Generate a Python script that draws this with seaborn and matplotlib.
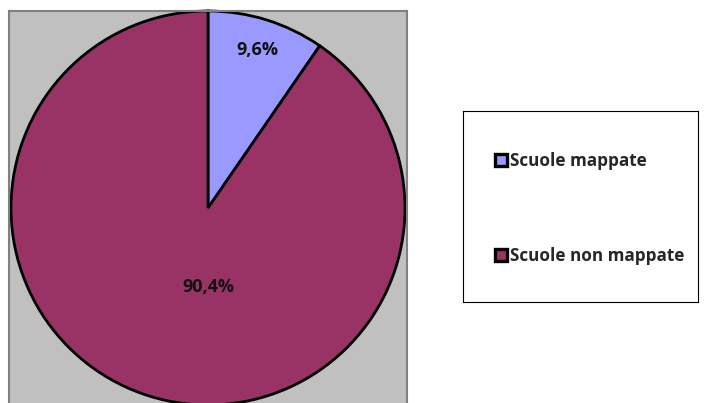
import matplotlib.pyplot as plt
import seaborn as sns
from matplotlib.patches import Patch

categorie = ["Scuole mappate", "Scuole non mappate"]
percentuali = [9.6, 90.4]
etichette = ["9,6%", "90,4%"]
colori = ["#9999FF", "#993366"]
# posizione delle etichette (unità del raggio)
pos_etichette = [(0.25, 0.80), (0.0, -0.40)]

sns.set_style("white")
plt.rcParams['font.family'] = ['Open Sans', 'DejaVu Sans']

W, H = 711, 403
fig = plt.figure(figsize=(W / 100, H / 100), dpi=100)

# area del grafico (grigia) in pixel
x0, x1, y0, y1 = 9, 407, 11, 405
cx, cy, r = 208, 208, 197
ax = fig.add_axes([x0 / W, (H - y1) / H, (x1 - x0) / W, (y1 - y0) / H])

wedges, _ = ax.pie(
    percentuali,
    colors=colori,
    startangle=90,
    counterclock=False,
    wedgeprops=dict(edgecolor="black", linewidth=2),
)
for (tx, ty), lab in zip(pos_etichette, etichette):
    ax.text(tx, ty, lab, ha="center", va="center",
            fontsize=13, fontweight="bold", color="#111111")

ax.set_aspect("auto")
ax.set_xlim((x0 - cx) / r, (x1 - cx) / r)
ax.set_ylim(-(y1 - cy) / r, (cy - y0) / r)
ax.set_frame_on(True)
ax.set_facecolor("#C0C0C0")
for s in ax.spines.values():
    s.set_color("#808080")
    s.set_linewidth(1.5)
ax.set_xticks([])
ax.set_yticks([])

# riquadro legenda
lx0, lx1, ly0, ly1 = 463, 698, 111, 302
axl = fig.add_axes([lx0 / W, (H - ly1) / H, (lx1 - lx0) / W, (ly1 - ly0) / H])
axl.set_xticks([])
axl.set_yticks([])
for s in axl.spines.values():
    s.set_color("black")
    s.set_linewidth(0.8)

handles = [Patch(facecolor=c, edgecolor="black", linewidth=2.4) for c in colori]
leg = axl.legend(
    handles, categorie, loc="center left", bbox_to_anchor=(0.135, 0.49),
    frameon=False, handlelength=0.7, handleheight=0.7, handletextpad=0.2,
    labelspacing=4.5, borderpad=0, borderaxespad=0,
    prop=dict(family="Open Sans", weight="bold", size=12.3),
)

fig.savefig("out.png", dpi=100)
